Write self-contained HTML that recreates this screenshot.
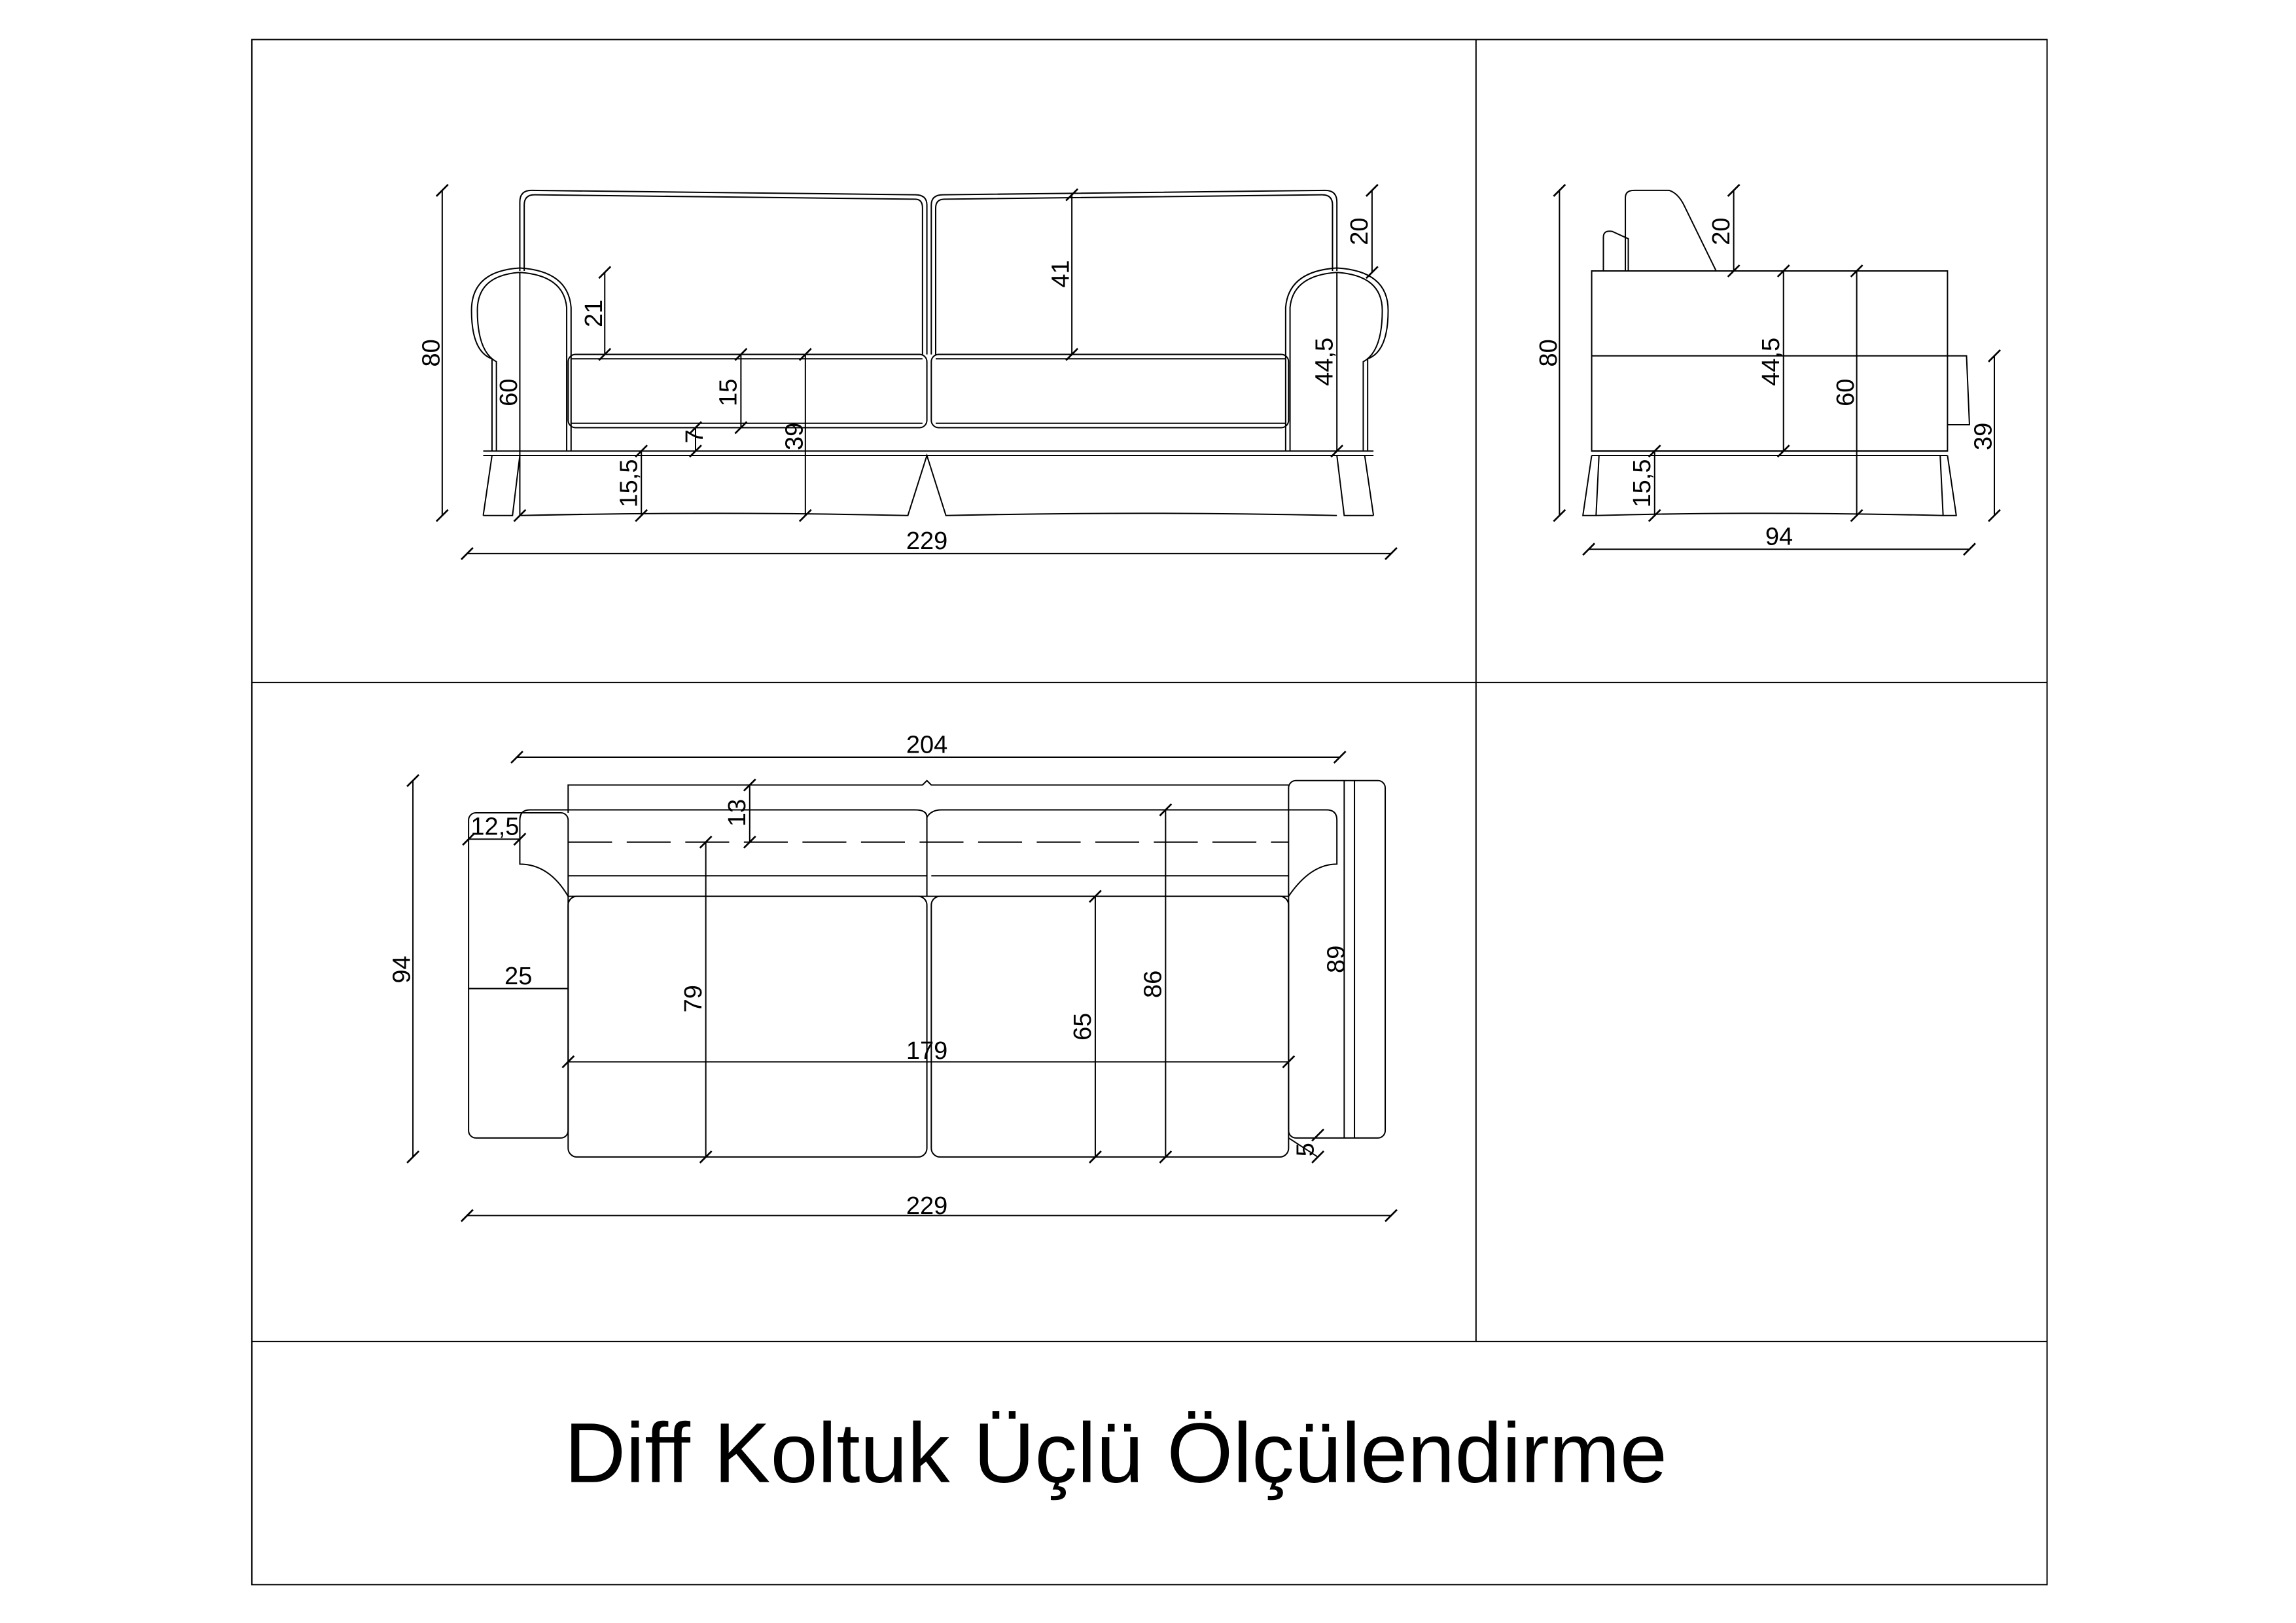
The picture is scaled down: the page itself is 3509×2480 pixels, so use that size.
<!DOCTYPE html>
<html><head><meta charset="utf-8"><style>
html,body{margin:0;padding:0;background:#fff;}
svg{display:block;}
text{font-family:"Liberation Sans",sans-serif;fill:#000;}
</style></head><body>
<svg width="3509" height="2480" viewBox="0 0 1568 1108.2" xmlns="http://www.w3.org/2000/svg">
<defs>
<g id="tk"><line x1="-4" y1="4" x2="4" y2="-4" stroke="#000" stroke-width="1.2"/></g>
</defs>
<g fill="none" stroke="#000" stroke-width="0.9">
<rect x="172" y="27" width="1226" height="1055"/>
<line x1="172" y1="466" x2="1398" y2="466"/>
<line x1="172" y1="916" x2="1398" y2="916"/>
<line x1="1008" y1="27" x2="1008" y2="916"/>

<path d="M355,185 L355,138 Q355,130 363,130 L625,133 Q633,133 633,140 L633,242"/>
<path d="M358,185 L358,140 Q358,133 365,133 L625,136 Q630,136 630,142 L630,242"/>
<path d="M636,242 L636,140 Q636,133 644,133 L905,130 Q913,130 913,138 L913,185"/>
<path d="M639,242 L639,142 Q639,136 645,136 L903,133 Q910,133 910,140 L910,185"/>
<path d="M336,308 L336,245 Q322,240 322,212 Q322,185 355,183 Q388,185 390,210 L390,308"/>
<path d="M339,308 L339,247 Q326,240 326,212 Q326,188 355,186 Q385,188 387,210 L387,308"/>
<path d="M934,308 L934,245 Q948,240 948,212 Q948,185 913,183 Q880,185 878,210 L878,308"/>
<path d="M931,308 L931,247 Q944,240 944,212 Q944,188 913,186 Q883,188 881,210 L881,308"/>
<rect x="388" y="242" width="245" height="50" rx="5"/>
<rect x="636" y="242" width="244" height="50" rx="5"/>
<line x1="390" y1="245" x2="630" y2="245"/>
<line x1="639" y1="245" x2="878" y2="245"/>
<line x1="390" y1="289" x2="630" y2="289"/>
<line x1="639" y1="289" x2="878" y2="289"/>
<line x1="330" y1="308" x2="938" y2="308"/>
<line x1="330" y1="311" x2="938" y2="311"/>
<path d="M330,352 L336,311 M938,352 L932,311"/>
<path d="M330,352 L350,352 L355,311 M938,352 L918,352 L913,311"/>
<path d="M355,352 Q490,349 620,352 L633,311 L646,352 Q780,349 913,352"/>
<line x1="302" y1="130" x2="302" y2="352"/><use href="#tk" x="302" y="130"/><use href="#tk" x="302" y="352"/>
<line x1="355" y1="186" x2="355" y2="352"/><use href="#tk" x="355" y="352"/>
<line x1="413" y1="186" x2="413" y2="242"/><use href="#tk" x="413" y="186"/><use href="#tk" x="413" y="242"/>
<line x1="506" y1="242" x2="506" y2="292"/><use href="#tk" x="506" y="242"/><use href="#tk" x="506" y="292"/>
<line x1="475" y1="292" x2="475" y2="308"/><use href="#tk" x="475" y="292"/><use href="#tk" x="475" y="308"/>
<line x1="438" y1="308" x2="438" y2="352"/><use href="#tk" x="438" y="308"/><use href="#tk" x="438" y="352"/>
<line x1="550" y1="242" x2="550" y2="352"/><use href="#tk" x="550" y="242"/><use href="#tk" x="550" y="352"/>
<line x1="732" y1="133" x2="732" y2="242"/><use href="#tk" x="732" y="133"/><use href="#tk" x="732" y="242"/>
<line x1="937" y1="130" x2="937" y2="186"/><use href="#tk" x="937" y="130"/><use href="#tk" x="937" y="186"/>
<line x1="913" y1="186" x2="913" y2="308"/><use href="#tk" x="913" y="308"/>
<line x1="319" y1="378" x2="950" y2="378"/><use href="#tk" x="319" y="378"/><use href="#tk" x="950" y="378"/>

<rect x="1087" y="185" width="243" height="123"/>
<line x1="1087" y1="243" x2="1330" y2="243"/>
<path d="M1330,243 L1343,243 L1345,290 L1330,290"/>
<path d="M1110,185 L1110,135 Q1110,130 1116,130 L1140,130 Q1146,132 1150,140 L1172,185"/>
<path d="M1095,185 L1095,162 Q1095,157 1101,158 L1112,163 L1112,185"/>
<line x1="1087" y1="308" x2="1330" y2="308"/>
<line x1="1087" y1="311" x2="1330" y2="311"/>
<path d="M1087,311 L1081,352 L1090,352 L1092,311 M1330,311 L1336,352 L1327,352 L1325,311"/>
<path d="M1090,352 Q1200,349 1327,352"/>
<line x1="1065" y1="130" x2="1065" y2="352"/><use href="#tk" x="1065" y="130"/><use href="#tk" x="1065" y="352"/>
<line x1="1184" y1="130" x2="1184" y2="185"/><use href="#tk" x="1184" y="130"/><use href="#tk" x="1184" y="185"/>
<line x1="1218" y1="185" x2="1218" y2="308"/><use href="#tk" x="1218" y="185"/><use href="#tk" x="1218" y="308"/>
<line x1="1268" y1="185" x2="1268" y2="352"/><use href="#tk" x="1268" y="185"/><use href="#tk" x="1268" y="352"/>
<line x1="1130" y1="308" x2="1130" y2="352"/><use href="#tk" x="1130" y="308"/><use href="#tk" x="1130" y="352"/>
<line x1="1362" y1="243" x2="1362" y2="352"/><use href="#tk" x="1362" y="243"/><use href="#tk" x="1362" y="352"/>
<line x1="1085" y1="375" x2="1345" y2="375"/><use href="#tk" x="1085" y="375"/><use href="#tk" x="1345" y="375"/>

<rect x="320" y="555" width="68" height="222" rx="5"/>
<rect x="880" y="533" width="66" height="244" rx="5"/>
<line x1="918" y1="533" x2="918" y2="777"/>
<path d="M388,555 L388,536 L630,536 L633,533 L636,536 L880,536"/>
<path d="M355,590 L355,560 Q355,553 362,553 L625,553 Q633,553 633,558 Q636,553 643,553 L906,553 Q913,553 913,560 L913,590 Q895,590 880,612 L388,612 Q375,590 355,590 Z"/>
<line x1="633" y1="558" x2="633" y2="612"/>
<line x1="388" y1="575" x2="880" y2="575" stroke-dasharray="30,10"/>
<rect x="388" y="612" width="245" height="178" rx="6"/>
<rect x="636" y="612" width="244" height="178" rx="6"/>
<line x1="388" y1="598" x2="633" y2="598"/>
<line x1="636" y1="598" x2="880" y2="598"/>
<line x1="353" y1="517" x2="915" y2="517"/><use href="#tk" x="353" y="517"/><use href="#tk" x="915" y="517"/>
<line x1="282" y1="533" x2="282" y2="790"/><use href="#tk" x="282" y="533"/><use href="#tk" x="282" y="790"/>
<line x1="320" y1="573" x2="355" y2="573"/><use href="#tk" x="320" y="573"/><use href="#tk" x="355" y="573"/>
<line x1="320" y1="675" x2="388" y2="675"/>
<line x1="512" y1="536" x2="512" y2="575"/><use href="#tk" x="512" y="536"/><use href="#tk" x="512" y="575"/>
<line x1="482" y1="575" x2="482" y2="790"/><use href="#tk" x="482" y="575"/><use href="#tk" x="482" y="790"/>
<line x1="748" y1="612" x2="748" y2="790"/><use href="#tk" x="748" y="612"/><use href="#tk" x="748" y="790"/>
<line x1="796" y1="553" x2="796" y2="790"/><use href="#tk" x="796" y="553"/><use href="#tk" x="796" y="790"/>
<line x1="388" y1="725" x2="880" y2="725"/><use href="#tk" x="388" y="725"/><use href="#tk" x="880" y="725"/>
<line x1="925" y1="533" x2="925" y2="777"/>
<line x1="880" y1="777" x2="900" y2="790"/><use href="#tk" x="900" y="775"/><use href="#tk" x="900" y="790"/>
<line x1="319" y1="830" x2="950" y2="830"/><use href="#tk" x="319" y="830"/><use href="#tk" x="950" y="830"/>
</g>

<g font-size="17">
<text x="633" y="375" text-anchor="middle">229</text>
<text x="633" y="829" text-anchor="middle">229</text>
<text x="633" y="514" text-anchor="middle">204</text>
<text x="633" y="723" text-anchor="middle">179</text>
<text x="1215" y="372" text-anchor="middle">94</text>
<text x="338" y="570" text-anchor="middle">12,5</text>
<text x="354" y="672" text-anchor="middle">25</text>
<g text-anchor="middle">
<text transform="translate(300,241) rotate(-90)">80</text>
<text transform="translate(353,268) rotate(-90)">60</text>
<text transform="translate(411,214) rotate(-90)">21</text>
<text transform="translate(503,268) rotate(-90)">15</text>
<text transform="translate(480,298) rotate(-90)">7</text>
<text transform="translate(435,330) rotate(-90)">15,5</text>
<text transform="translate(548,298) rotate(-90)">39</text>
<text transform="translate(730,187) rotate(-90)">41</text>
<text transform="translate(934,158) rotate(-90)">20</text>
<text transform="translate(910,247) rotate(-90)">44,5</text>
<text transform="translate(1063,241) rotate(-90)">80</text>
<text transform="translate(1181,158) rotate(-90)">20</text>
<text transform="translate(1215,247) rotate(-90)">44,5</text>
<text transform="translate(1266,268) rotate(-90)">60</text>
<text transform="translate(1127,330) rotate(-90)">15,5</text>
<text transform="translate(1360,298) rotate(-90)">39</text>
<text transform="translate(280,662) rotate(-90)">94</text>
<text transform="translate(509,555) rotate(-90)">13</text>
<text transform="translate(479,682) rotate(-90)">79</text>
<text transform="translate(745,701) rotate(-90)">65</text>
<text transform="translate(793,672) rotate(-90)">86</text>
<text transform="translate(918,655) rotate(-90)">89</text>
<text transform="translate(897,785) rotate(-90)">5</text>
</g>
</g>
<text x="762" y="1012" text-anchor="middle" font-size="58">Diff Koltuk Üçlü Ölçülendirme</text>
</svg>
</body></html>
